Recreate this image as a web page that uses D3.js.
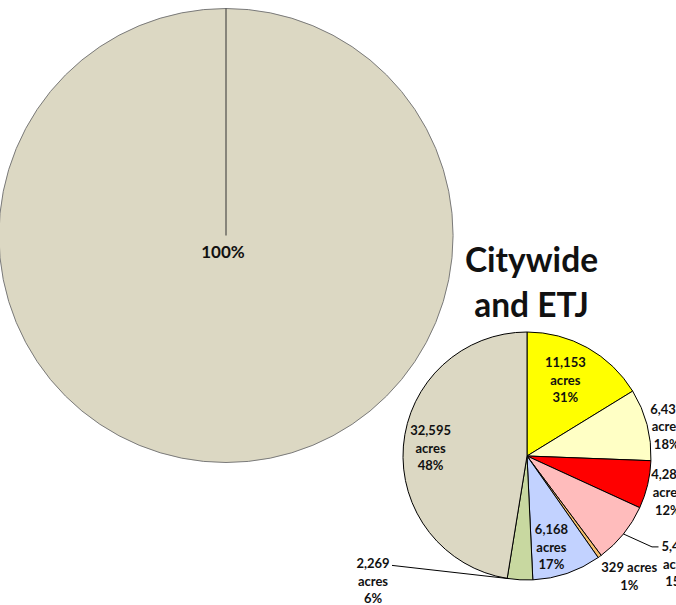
<!DOCTYPE html>
<html lang="en">
<head>
	<meta charset="utf-8">
	<title>Citywide and ETJ - Pie</title>
	<script src="https://d3js.org/d3.v7.min.js"></script>
<style>
	body { margin: 0; background: #fff; }
	svg text { font-family: Lato, "Open Sans", sans-serif; font-weight: bold; fill: #111; }
	.title { font-size: 33.5px; }
	.lbl { font-size: 13px; }
	.big-lbl { font-size: 17px; }
</style>
</head>
<body>
<script>
// big pie (single category)
var bigValues = [100];
var bigLabels = ["100%"];

// Citywide and ETJ, clockwise from 12 o'clock
var acres = [11153, 6437, 4287, 5463, 329, 6168, 2269, 32595];
var acreLabels = ["11,153", "6,437", "4,287", "5,463", "329", "6,168", "2,269", "32,595"];
var pctLabels = ["31%", "18%", "12%", "15%", "1%", "17%", "6%", "48%"];
var sliceColors = ["#ffff00", "#ffffc5", "#ff0000", "#ffbcbc", "#f6c06e", "#c2d2ff", "#c8d8a0", "#dcd8c3"];

var titleLines = ["Citywide", "and ETJ"];

var width = 676, height = 605;
var svg = d3.select("body").append("svg")
	.attr("width", width)
	.attr("height", height);

// ---- big pie ----
var bigR = 227, bigCx = 226, bigCy = 235.5;
var bigPie = d3.pie().sort(null)(bigValues);
var bigArc = d3.arc().innerRadius(0).outerRadius(bigR);
var gBig = svg.append("g").attr("transform", "translate(" + bigCx + "," + bigCy + ")");
gBig.selectAll("path")
	.data(bigPie)
	.enter().append("path")
	.attr("d", bigArc)
	.attr("fill", "#dcd8c3")
	.attr("stroke", "#7a7a7a")
	.attr("stroke-width", 1);
// slice border from centre to start angle (excel draws it even for one slice)
gBig.selectAll("line")
	.data(bigPie)
	.enter().append("line")
	.attr("x1", 0).attr("y1", 0)
	.attr("x2", d => bigR * Math.sin(d.startAngle))
	.attr("y2", d => -bigR * Math.cos(d.startAngle))
	.attr("stroke", "#333")
	.attr("stroke-width", 1);
gBig.selectAll("text")
	.data(bigPie)
	.enter().append("text")
	.attr("class", "big-lbl")
	.attr("text-anchor", "middle")
	.attr("x", -3)
	.attr("y", 22.5)
	.text((d, i) => bigLabels[i]);

// ---- small pie ----
var r = 124, cx = 527, cy = 456;
var pie = d3.pie().sort(null);
var arcs = pie(acres);
var arc = d3.arc().innerRadius(0).outerRadius(r);
var g = svg.append("g").attr("transform", "translate(" + cx + "," + cy + ")");

g.selectAll("path")
	.data(arcs)
	.enter().append("path")
	.attr("d", arc)
	.attr("fill", (d, i) => sliceColors[i])
	.attr("stroke", "#000")
	.attr("stroke-width", 1)
	.attr("stroke-linejoin", "round");

// label placement: radius factor, nudges, leader (fraction of slice angle where the leader hits)
var labelR = [0.70, 1.19, 1.2, 1.5, 1.27, 0.76, 1.5, 0.78];
var labelDx = [-4, -3, -4, 0, 10, -6, 0, 0];
var labelDy = [0, 8, 2, 0, -7, 2, 0, 0];
var leaderAt = [null, null, null, 0.5, null, null, 0.95, null];
var lineGap = 17.6;

function polar(a, rr) { return [rr * Math.sin(a), -rr * Math.cos(a)]; }

// fixed label centres for the leader-line labels, relative to the pie centre
var leaderLabelPos = { 3: [151, 108], 6: [-154, 125] };

arcs.forEach(function(d, i) {
	var mid = (d.startAngle + d.endAngle) / 2;
	var p = polar(mid, r * labelR[i]);
	var x = p[0] + labelDx[i], y = p[1] + labelDy[i];
	if (leaderLabelPos[i]) { x = leaderLabelPos[i][0]; y = leaderLabelPos[i][1]; }
	var lines = i === 4 ? [acreLabels[i] + " acres", pctLabels[i]] : [acreLabels[i], "acres", pctLabels[i]];
	var top = y - (lines.length - 1) * lineGap / 2;
	var t = g.append("text").attr("class", "lbl").attr("text-anchor", "middle");
	lines.forEach(function(s, k) {
		t.append("tspan").attr("x", x).attr("y", top + k * lineGap).attr("dy", "0.35em").text(s);
	});

	if (leaderAt[i] != null) {
		var a = d.startAngle + (d.endAngle - d.startAngle) * leaderAt[i];
		var e = polar(a, r);
		var pts;
		if (i === 3) {
			pts = [e, [x - 26, top + 0.5], [x - 19.5, top + 0.5]];
		} else {
			pts = [e, [x + 19, top + 2]];
		}
		g.append("path")
			.attr("d", d3.line()(pts))
			.attr("fill", "none")
			.attr("stroke", "#000")
			.attr("stroke-width", 1);
	}
});

// ---- title ----
svg.append("text")
	.attr("class", "title")
	.attr("text-anchor", "middle")
	.selectAll("tspan")
	.data(titleLines)
	.enter().append("tspan")
	.attr("x", 531.5)
	.attr("y", (d, i) => 272 + i * 45)
	.text(d => d);
</script>
</body>
</html>
